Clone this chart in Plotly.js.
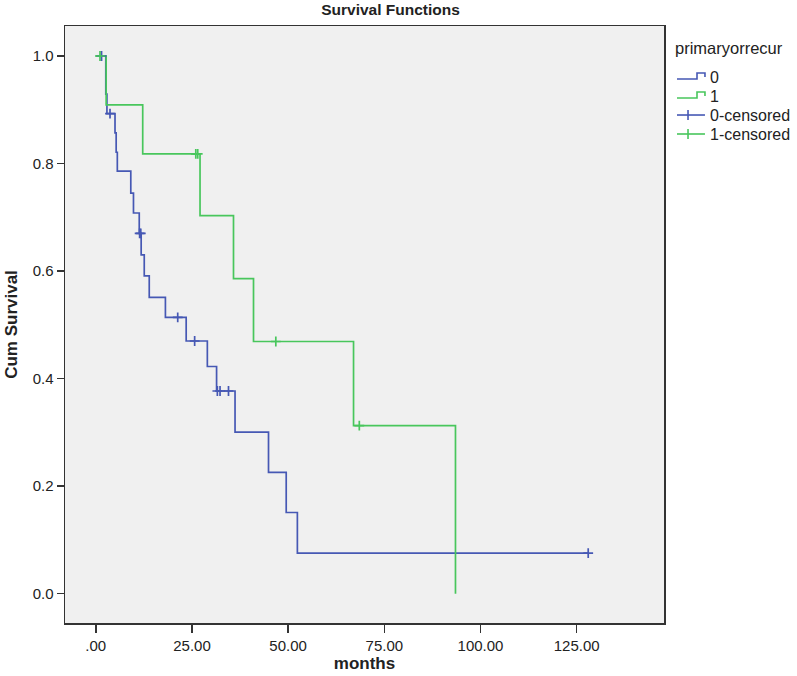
<!DOCTYPE html>
<html>
<head>
<meta charset="utf-8">
<script src="https://cdn.plot.ly/plotly-3.0.1.min.js"></script>
<style>html,body{margin:0;padding:0;background:#fff;}#chart{width:797px;height:676px;}</style>
</head>
<body>
<div id="chart"></div>
<script>
// ---- data ----
const groupNames = ['0', '1'];
const legendTitle = 'primaryorrecur';

// group 0 (blue): step curve (event times, survival after step)
const blueTimes = [0, 2.6, 2.9, 5.0, 5.3, 5.6, 9.1, 9.8, 11.3, 11.8, 12.6, 13.9, 18.1, 23.5, 29.0, 31.4, 36.2, 44.9, 49.5, 52.4, 128.0];
const blueSurv  = [1.0, 0.929, 0.893, 0.857, 0.821, 0.786, 0.745, 0.708, 0.670, 0.630, 0.591, 0.551, 0.514, 0.470, 0.4225, 0.377, 0.3005, 0.2255, 0.151, 0.0756, 0.0756];
const blueCensorTimes = [1.5, 3.7, 11.4, 11.7, 21.3, 25.7, 31.6, 32.3, 34.5, 128.0];
const blueCensorSurv  = [1.0, 0.893, 0.670, 0.670, 0.514, 0.470, 0.377, 0.377, 0.377, 0.0756];

// group 1 (green)
const greenTimes = [0, 2.7, 12.2, 27.1, 35.8, 41.0, 67.0, 93.5];
const greenSurv  = [1.0, 0.909, 0.818, 0.703, 0.586, 0.469, 0.3125, 0.0];
const greenCensorTimes = [1.1, 26.0, 26.5, 46.8, 68.5];
const greenCensorSurv  = [1.0, 0.818, 0.818, 0.469, 0.3125];

const xTickVals = [0, 25, 50, 75, 100, 125];
const xTickText = ['.00', '25.00', '50.00', '75.00', '100.00', '125.00'];
const yTickVals = [0, 0.2, 0.4, 0.6, 0.8, 1.0];
const yTickText = ['0.0', '0.2', '0.4', '0.6', '0.8', '1.0'];

// ---- styles ----
const BLUE = 'rgb(70,88,180)';
const GREEN = 'rgb(72,198,92)';
const FONT = 'Arial, "Liberation Sans", sans-serif';
const TXT = '#222';

const L = 65, R = 664, T = 26, B = 623;
const W = 797, H = 676;
const px = x => (x - L) / (R - L);
const py = y => (B - y) / (B - T);

const traces = [
  {x: blueTimes, y: blueSurv, mode: 'lines', line: {shape: 'hv', color: BLUE, width: 1.7}, hoverinfo: 'skip', showlegend: false},
  {x: greenTimes, y: greenSurv, mode: 'lines', line: {shape: 'hv', color: GREEN, width: 1.7}, hoverinfo: 'skip', showlegend: false},
  {x: blueCensorTimes, y: blueCensorSurv, mode: 'markers', marker: {symbol: 'cross-thin', size: 7, line: {color: BLUE, width: 1.7}}, showlegend: false},
  {x: greenCensorTimes, y: greenCensorSurv, mode: 'markers', marker: {symbol: 'cross-thin', size: 7, line: {color: GREEN, width: 1.7}}, showlegend: false}
];

// custom legend drawn with shapes + annotations
const legX0 = 677, legX1 = 705, textX = 708;
const rows = [77, 96, 115, 134];
const shapes = [];
const annotations = [];
function addPath(pts, color) {
  let d = '';
  pts.forEach((p, i) => { d += (i ? ' L ' : 'M ') + px(p[0]).toFixed(4) + ',' + py(p[1]).toFixed(4); });
  shapes.push({type: 'path', xref: 'paper', yref: 'paper', path: d, line: {color: color, width: 1.6}});
}
// step glyphs
[[rows[0], BLUE], [rows[1], GREEN]].forEach(([y, c]) => {
  addPath([[legX0, y + 2], [legX1 - 8, y + 2], [legX1 - 8, y - 4], [legX1, y - 4], [legX1, y]], c);
});
// censored glyphs
[[rows[2], BLUE], [rows[3], GREEN]].forEach(([y, c]) => {
  addPath([[legX0, y], [legX1, y]], c);
  addPath([[688, y - 5], [688, y + 5]], c);
});
const legLabels = [groupNames[0], groupNames[1], groupNames[0] + '-censored', groupNames[1] + '-censored'];
legLabels.forEach((t, i) => {
  annotations.push({xref: 'paper', yref: 'paper', x: px(textX), y: py(rows[i]), text: t, showarrow: false,
    xanchor: 'left', yanchor: 'middle', font: {family: FONT, size: 16, color: TXT}});
});
annotations.push({xref: 'paper', yref: 'paper', x: px(673), y: py(48), text: legendTitle, showarrow: false,
  xanchor: 'left', yanchor: 'middle', font: {family: FONT, size: 16.5, color: TXT}});

const layout = {
  width: W, height: H,
  paper_bgcolor: '#ffffff', plot_bgcolor: '#f0f0f0',
  margin: {l: L, r: W - R, t: T, b: H - B, pad: 0},
  showlegend: false,
  title: {text: 'Survival Functions', x: 0.49, xref: 'container', y: 1 - 10 / H, yref: 'container',
    xanchor: 'center', yanchor: 'middle', font: {family: FONT, size: 15.5, color: TXT, weight: 'bold'}},
  xaxis: {range: [-8, 147.7], tickvals: xTickVals, ticktext: xTickText, ticks: 'outside', ticklen: 8,
    tickwidth: 1.5, tickcolor: '#333', showline: true, linecolor: '#333', linewidth: 1.5, mirror: true,
    showgrid: false, zeroline: false, fixedrange: true,
    tickfont: {family: FONT, size: 15, color: TXT},
    title: {text: 'months', standoff: 4, font: {family: FONT, size: 17, color: TXT, weight: 'bold'}}},
  yaxis: {range: [-0.0545, 1.0558], tickvals: yTickVals, ticktext: yTickText, ticks: 'outside', ticklen: 7,
    tickwidth: 1.5, tickcolor: '#333', showline: true, linecolor: '#333', linewidth: 1.5, mirror: true,
    showgrid: false, zeroline: false, fixedrange: true,
    tickfont: {family: FONT, size: 15, color: TXT},
    title: {text: 'Cum Survival', standoff: 10, font: {family: FONT, size: 17, color: TXT, weight: 'bold'}}},
  shapes: shapes,
  annotations: annotations
};

Plotly.newPlot('chart', traces, layout, {staticPlot: true, displayModeBar: false});
</script>
</body>
</html>
